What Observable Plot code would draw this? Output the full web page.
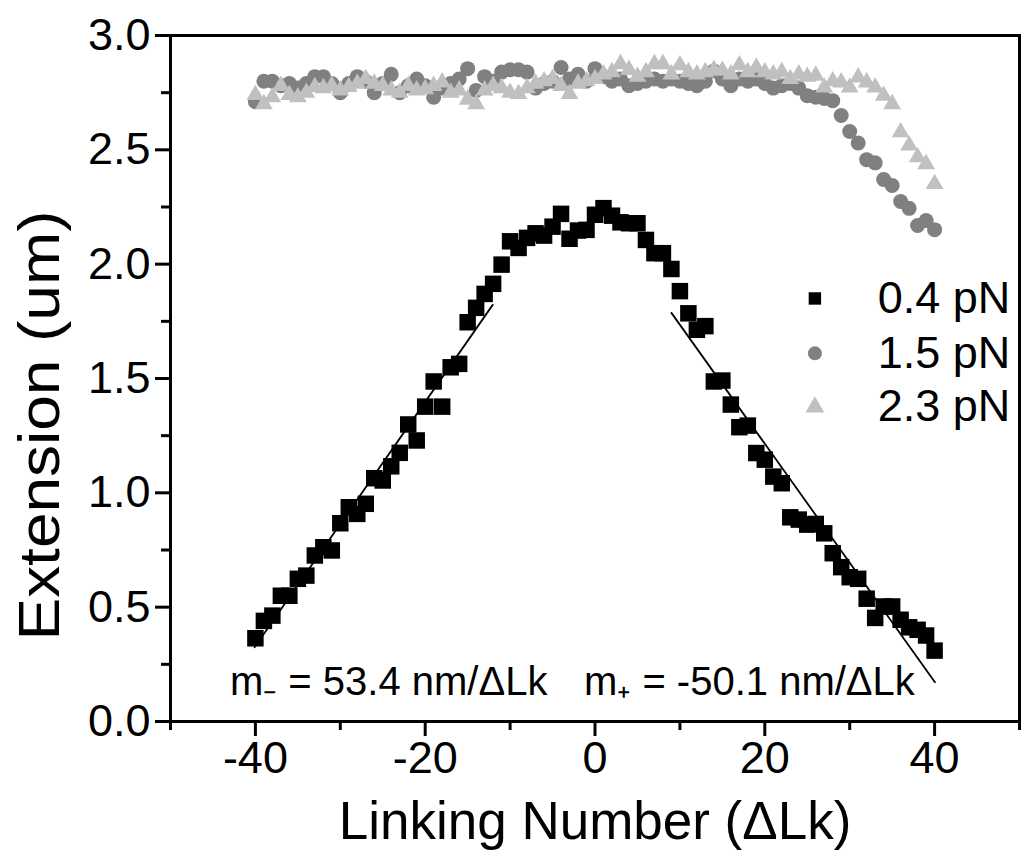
<!DOCTYPE html>
<html><head><meta charset="utf-8">
<script src="https://cdn.jsdelivr.net/npm/d3@7"></script>
<script src="https://cdn.jsdelivr.net/npm/@observablehq/plot@0.6"></script>
<style>body{margin:0;background:#fff}</style>
</head><body><div id="chart"></div>
<script>
// Linking number (ΔLk) positions shared by all three series
const linkingNumber = [-40,-39,-38,-37,-36,-35,-34,-33,-32,-31,-30,-29,-28,-27,-26,-25,-24,-23,-22,-21,-20,-19,-18,-17,-16,-15,-14,-13,-12,-11,-10,-9,-8,-7,-6,-5,-4,-3,-2,-1,0,1,2,3,4,5,6,7,8,9,10,11,12,13,14,15,16,17,18,19,20,21,22,23,24,25,26,27,28,29,30,31,32,33,34,35,36,37,38,39,40];

// Extension (um) at 0.4 pN
const ext04 = [0.364,0.44,0.463,0.55,0.55,0.624,0.638,0.726,0.762,0.748,0.867,0.937,0.908,0.952,1.064,1.054,1.116,1.175,1.299,1.229,1.377,1.487,1.377,1.549,1.564,1.746,1.809,1.870,1.914,1.998,2.100,2.071,2.115,2.135,2.125,2.164,2.220,2.111,2.147,2.150,2.216,2.245,2.212,2.183,2.179,2.179,2.106,2.048,2.048,1.979,1.882,1.785,1.713,1.729,1.487,1.491,1.386,1.287,1.294,1.174,1.145,1.071,1.042,0.893,0.883,0.861,0.864,0.823,0.736,0.675,0.631,0.624,0.537,0.453,0.503,0.503,0.445,0.412,0.401,0.376,0.31];

// Extension (um) at 1.5 pN
const ext15 = [2.71,2.80,2.80,2.78,2.79,2.77,2.79,2.82,2.82,2.79,2.75,2.79,2.82,2.80,2.75,2.79,2.83,2.75,2.78,2.81,2.78,2.73,2.77,2.79,2.81,2.855,2.76,2.82,2.80,2.84,2.85,2.85,2.84,2.77,2.79,2.80,2.86,2.81,2.83,2.80,2.855,2.82,2.80,2.81,2.78,2.79,2.80,2.81,2.80,2.81,2.80,2.79,2.78,2.80,2.845,2.81,2.78,2.81,2.80,2.81,2.79,2.77,2.78,2.79,2.77,2.737,2.73,2.725,2.715,2.65,2.58,2.53,2.457,2.443,2.37,2.344,2.274,2.244,2.169,2.191,2.151];

// Extension (um) at 2.3 pN
const ext23 = [2.74,2.70,2.73,2.78,2.74,2.73,2.75,2.775,2.77,2.78,2.76,2.775,2.79,2.81,2.79,2.78,2.76,2.75,2.78,2.76,2.766,2.78,2.795,2.75,2.76,2.72,2.70,2.76,2.78,2.77,2.75,2.745,2.77,2.79,2.80,2.81,2.78,2.745,2.79,2.80,2.81,2.83,2.84,2.875,2.85,2.82,2.84,2.875,2.875,2.83,2.87,2.84,2.83,2.84,2.85,2.846,2.83,2.87,2.84,2.86,2.84,2.83,2.84,2.81,2.83,2.82,2.825,2.773,2.80,2.795,2.773,2.817,2.795,2.773,2.737,2.70,2.577,2.519,2.468,2.438,2.351];

// Linear fits (endpoints)
const fitMinusX = [-40.1, -12.05];
const fitMinusY = [0.325, 1.822];
const fitPlusX = [9.0, 40.04];
const fitPlusY = [1.787, 0.172];

// Annotations
const noteText = ["m\u208B = 53.4 nm/\u0394Lk", "m\u208A = -50.1 nm/\u0394Lk"];
const noteX = [-43.0, -1.3];
const noteY = [0.17, 0.17];

// Legend
const legendLabels = ["0.4 pN", "1.5 pN", "2.3 pN"];
const legendSymbols = ["square", "circle", "triangle"];
const legendColors = ["#000000", "#808080", "#c0c0c0"];
const legendY = [1.85, 1.61, 1.375];
const legendSymX = 25.9;
const legendTextX = 33.3;

// Axes
const xMajor = [-40, -20, 0, 20, 40];
const xMinor = [-50, -30, -10, 10, 30, 50];
const yMajor = [0, 0.5, 1.0, 1.5, 2.0, 2.5, 3.0];
const yMinor = [0.25, 0.75, 1.25, 1.75, 2.25, 2.75];
const xTitle = "Linking Number (\u0394Lk)";
const yTitle = "Extension (um)";

const mk = (ys) => linkingNumber.map((x, i) => ({x, y: ys[i]}));
const d04 = mk(ext04), d15 = mk(ext15), d23 = mk(ext23);
const fitM = fitMinusX.map((x, i) => ({x, y: fitMinusY[i]}));
const fitP = fitPlusX.map((x, i) => ({x, y: fitPlusY[i]}));
const notes = noteText.map((t, i) => ({t, x: noteX[i], y: noteY[i]}));
const legend = legendLabels.map((t, i) => ({t, s: legendSymbols[i], c: legendColors[i], y: legendY[i]}));

const font = "'Liberation Sans', Arial, Helvetica, sans-serif";

const chart = Plot.plot({
  width: 1022, height: 851,
  marginLeft: 170, marginRight: 3, marginTop: 35, marginBottom: 130,
  style: {fontFamily: font, background: "white", color: "black"},
  x: {domain: [-50, 50]},
  y: {domain: [0, 3]},
  marks: [
    Plot.dot(d15, {x: "x", y: "y", symbol: "circle", r: 7.5, fill: "#808080"}),
    Plot.dot(d23, {x: "x", y: "y", symbol: "triangle", r: 6.6, fill: "#c0c0c0"}),
    Plot.dot(d04, {x: "x", y: "y", symbol: "square", r: 9.3, fill: "black"}),
    Plot.line(fitM, {x: "x", y: "y", stroke: "black", strokeWidth: 1.8}),
    Plot.line(fitP, {x: "x", y: "y", stroke: "black", strokeWidth: 1.8}),
    Plot.text(notes, {x: "x", y: "y", text: "t", textAnchor: "start", fontSize: 40, fill: "black"}),
    Plot.dot(legend, {x: () => legendSymX, y: "y", symbol: "s", fill: "c", r: 7}),
    Plot.text(legend, {x: () => legendTextX, y: "y", text: "t", textAnchor: "start", fontSize: 45, fill: "black"}),
    Plot.axisX({ticks: xMajor, tickSize: 15, tickPadding: 5, fontSize: 45, strokeWidth: 3, label: null, tickFormat: d => String(d)}),
    Plot.axisX({ticks: xMinor, tickSize: 9, strokeWidth: 3, label: null, tickFormat: () => ""}),
    Plot.axisY({ticks: yMajor, tickSize: 15, tickPadding: 5, fontSize: 45, strokeWidth: 3, label: null, tickFormat: d => d.toFixed(1)}),
    Plot.axisY({ticks: yMinor, tickSize: 9, strokeWidth: 3, label: null, tickFormat: () => ""}),
    Plot.text([xTitle], {frameAnchor: "bottom", lineAnchor: "bottom", dy: 117, fontSize: 53, fill: "black"}),
    Plot.text([yTitle], {frameAnchor: "left", textAnchor: "middle", lineAnchor: "middle", rotate: -90, dx: -130, dy: 47, fontSize: 58, fill: "black"}),
    Plot.frame({stroke: "black", strokeWidth: 3})
  ]
});
// stretch the y title along its length like the reference
chart.querySelectorAll("text").forEach(t => {
  if (t.textContent === yTitle) {
    t.setAttribute("textLength", 430);
    t.setAttribute("lengthAdjust", "spacingAndGlyphs");
  }
});
document.getElementById("chart").appendChild(chart);
</script>
</body></html>
